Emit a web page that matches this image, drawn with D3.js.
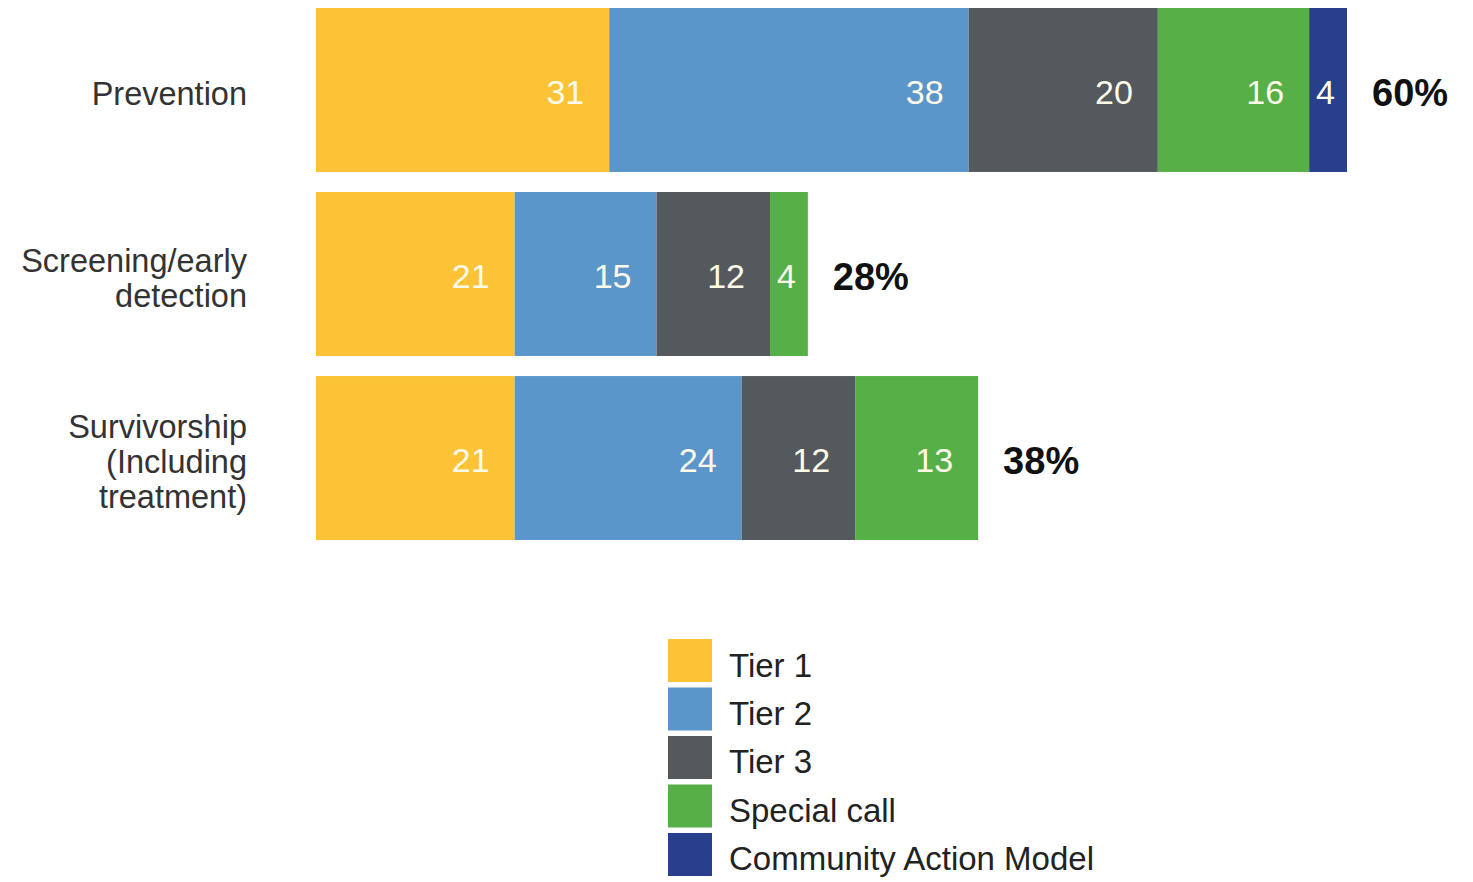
<!DOCTYPE html>
<html>
<head>
<meta charset="utf-8">
<script src="https://cdn.jsdelivr.net/npm/d3@7"></script>
<style>
  body { margin: 0; background: #fff; }
  svg { display: block; font-family: "Liberation Sans", Arial, sans-serif; }
</style>
</head>
<body>
<svg id="chart"></svg>
<script>
// categories (label lines as they wrap in the original)
const categories = ["Prevention", "Screening/early detection", "Survivorship (Including treatment)"];
const categoryLines = [["Prevention"], ["Screening/early", "detection"], ["Survivorship", "(Including", "treatment)"]];

// series
const seriesNames = ["Tier 1", "Tier 2", "Tier 3", "Special call", "Community Action Model"];
const tier1 = [31, 21, 21];
const tier2 = [38, 15, 24];
const tier3 = [20, 12, 12];
const specialCall = [16, 4, 13];
const communityAction = [4, 0, 0];
const shareLabels = ["60%", "28%", "38%"];

const colors = ["#fdc336", "#5b96ca", "#54595d", "#56af47", "#283f8c"];

const width = 1473, height = 882;

const rows = categories.map((c, i) => ({
  category: c,
  "Tier 1": tier1[i],
  "Tier 2": tier2[i],
  "Tier 3": tier3[i],
  "Special call": specialCall[i],
  "Community Action Model": communityAction[i]
}));

const stacked = d3.stack().keys(seriesNames)(rows);

const svg = d3.select("#chart")
    .attr("width", width)
    .attr("height", height);

const x = d3.scaleLinear()
    .domain([0, 109])
    .range([316, 1347]);

const y = d3.scaleBand()
    .domain(categories)
    .range([8, 540])
    .paddingInner(0.109)
    .paddingOuter(0);

const color = d3.scaleOrdinal().domain(seriesNames).range(colors);

// bars
const layer = svg.append("g")
  .selectAll("g")
  .data(stacked)
  .enter().append("g")
    .attr("fill", d => color(d.key));

layer.selectAll("rect")
  .data(d => d.filter(s => s[1] - s[0] > 0))
  .enter().append("rect")
    .attr("x", d => x(d[0]))
    .attr("y", d => y(d.data.category))
    .attr("width", d => x(d[1]) - x(d[0]))
    .attr("height", y.bandwidth());

// value labels inside segments
layer.selectAll("text")
  .data(d => d.filter(s => s[1] - s[0] > 0))
  .enter().append("text")
    .attr("x", d => {
      const w = x(d[1]) - x(d[0]);
      return x(d[1]) - (w > 80 ? 25 : 12);
    })
    .attr("y", d => y(d.data.category) + y.bandwidth() / 2 + 14)
    .attr("text-anchor", "end")
    .attr("fill", "#fffbea")
    .style("font-size", "34px")
    .text(d => d[1] - d[0]);

// totals at bar end
const last = stacked[stacked.length - 1];
svg.append("g")
  .selectAll("text")
  .data(last)
  .enter().append("text")
    .attr("x", d => x(d[1]) + 25)
    .attr("y", d => y(d.data.category) + y.bandwidth() / 2 + 16)
    .attr("fill", "#111")
    .style("font-size", "38px")
    .style("font-weight", "bold")
    .text((d, i) => shareLabels[i]);

// category labels
const lineH = 35;
svg.append("g")
  .selectAll("text")
  .data(categories)
  .enter().append("text")
    .attr("text-anchor", "end")
    .attr("fill", "#333")
    .style("font-size", "32.5px")
    .each(function(c, i) {
      const lines = categoryLines[i];
      const cy = y(c) + y.bandwidth() / 2 + 15 - (lines.length - 1) * lineH / 2;
      d3.select(this).selectAll("tspan")
        .data(lines)
        .enter().append("tspan")
          .attr("x", 247)
          .attr("y", (l, j) => cy + j * lineH)
          .text(l => l);
    });

// legend
const ly = d3.scaleBand()
    .domain(seriesNames)
    .range([639, 876])
    .paddingInner(0.113)
    .paddingOuter(0);

const legend = svg.append("g")
  .selectAll("g")
  .data(seriesNames)
  .enter().append("g")
    .attr("transform", d => `translate(668,${ly(d)})`);

legend.append("rect")
    .attr("width", 44)
    .attr("height", ly.bandwidth())
    .attr("fill", d => color(d));

legend.append("text")
    .attr("x", 61)
    .attr("y", ly.bandwidth() / 2 + 16)
    .attr("fill", "#222")
    .style("font-size", "33px")
    .text(d => d);
</script>
</body>
</html>
